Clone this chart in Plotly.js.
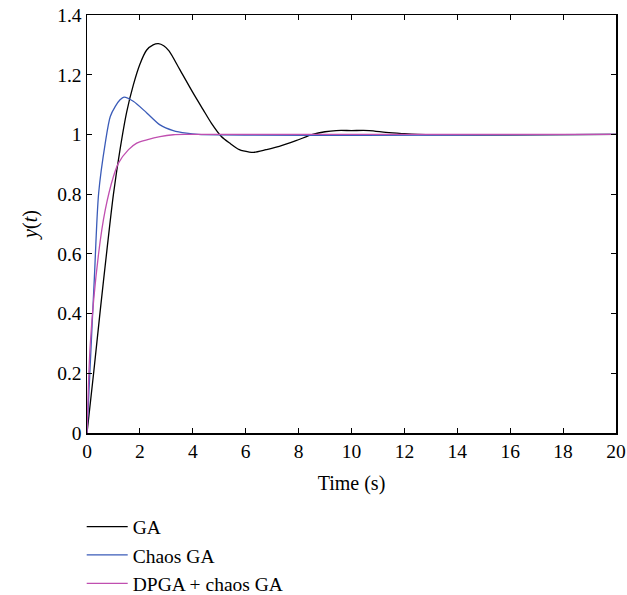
<!DOCTYPE html>
<html>
<head>
<meta charset="utf-8">
<script src="https://cdn.plot.ly/plotly-3.0.1.min.js"></script>
<style>html,body{margin:0;padding:0;background:#fff;}#chart{width:627px;height:595px;}</style>
</head>
<body>
<div id="chart"></div>
<script>
// Data
var gaT = [0, 0.25, 0.5, 0.75, 1.0, 1.25, 1.5, 1.75, 2.0, 2.25, 2.5, 2.7, 2.9, 3.1, 3.51, 4.01, 4.39, 4.70, 5.08, 5.39, 5.76, 6.14, 6.3, 6.77, 7.27, 7.9, 8.53, 9.0, 9.42, 10.0, 10.67, 11.3, 11.9, 12.5, 20];
var gaY = [0, 0.20, 0.41, 0.61, 0.80, 0.95, 1.075, 1.165, 1.235, 1.282, 1.300, 1.304, 1.297, 1.280, 1.217, 1.139, 1.083, 1.038, 0.993, 0.971, 0.949, 0.941, 0.940, 0.949, 0.960, 0.979, 1.0, 1.009, 1.013, 1.013, 1.013, 1.007, 1.003, 1.0, 1.0];

var chaosT = [0, 0.10, 0.28, 0.44, 0.69, 0.88, 1.07, 1.25, 1.40, 1.75, 2.26, 2.76, 3.26, 3.76, 4.2, 20];
var chaosY = [0, 0.188, 0.523, 0.803, 0.971, 1.060, 1.094, 1.116, 1.125, 1.111, 1.072, 1.032, 1.013, 1.004, 1.0, 1.0];

var dpgaT = [0, 0.125, 0.44, 0.69, 1.0, 1.19, 1.57, 1.88, 2.26, 2.76, 3.26, 3.9, 20];
var dpgaY = [0, 0.30, 0.602, 0.747, 0.859, 0.904, 0.949, 0.971, 0.982, 0.993, 0.999, 1.0, 1.0];

var seriesNames = ["GA", "Chaos GA", "DPGA + chaos GA"];
var seriesColors = ["#000000", "#3a5bb8", "#c04fb0"];

var fontFam = "'Liberation Serif', 'DejaVu Serif', serif";

var traces = [
  {x: gaT, y: gaY, name: seriesNames[0], legendgroup: "a", mode: "lines", line: {color: seriesColors[0], width: 1.3, shape: "spline", smoothing: 0.8}},
  {x: chaosT, y: chaosY, name: seriesNames[1], legendgroup: "b", mode: "lines", line: {color: seriesColors[1], width: 1.3, shape: "spline", smoothing: 0.8}},
  {x: dpgaT, y: dpgaY, name: seriesNames[2], legendgroup: "c", mode: "lines", line: {color: seriesColors[2], width: 1.3, shape: "spline", smoothing: 0.8}}
];

var axisCommon = {
  showgrid: false, zeroline: false, showline: true, linecolor: "#000", linewidth: 1.5,
  mirror: "ticks", ticks: "inside", ticklen: 5, tickcolor: "#000", tickwidth: 1,
  tickfont: {family: fontFam, size: 19.5, color: "#000"}
};

var layout = {
  width: 627, height: 595,
  margin: {l: 87, r: 11, t: 15, b: 162, autoexpand: false},
  paper_bgcolor: "#fff", plot_bgcolor: "#fff",
  font: {family: fontFam, size: 19, color: "#000"},
  xaxis: Object.assign({}, axisCommon, {range: [0, 20], dtick: 2, tick0: 0,
    title: {text: "Time (s)", font: {family: fontFam, size: 20}, standoff: 15}}),
  yaxis: Object.assign({}, axisCommon, {range: [0, 1.4], dtick: 0.2, tick0: 0,
    title: {text: "<i>y</i>(<i>t</i>)", font: {family: fontFam, size: 20}, standoff: 14}}),
  showlegend: true,
  legend: {x: -0.01, xanchor: "left", y: -0.178, yanchor: "top", yref: "paper",
    traceorder: "grouped", tracegroupgap: 0, bgcolor: "rgba(0,0,0,0)",
    font: {family: fontFam, size: 19.5, color: "#000"}, itemwidth: 41}
};

Plotly.newPlot("chart", traces, layout, {displayModeBar: false, staticPlot: true});
</script>
</body>
</html>
